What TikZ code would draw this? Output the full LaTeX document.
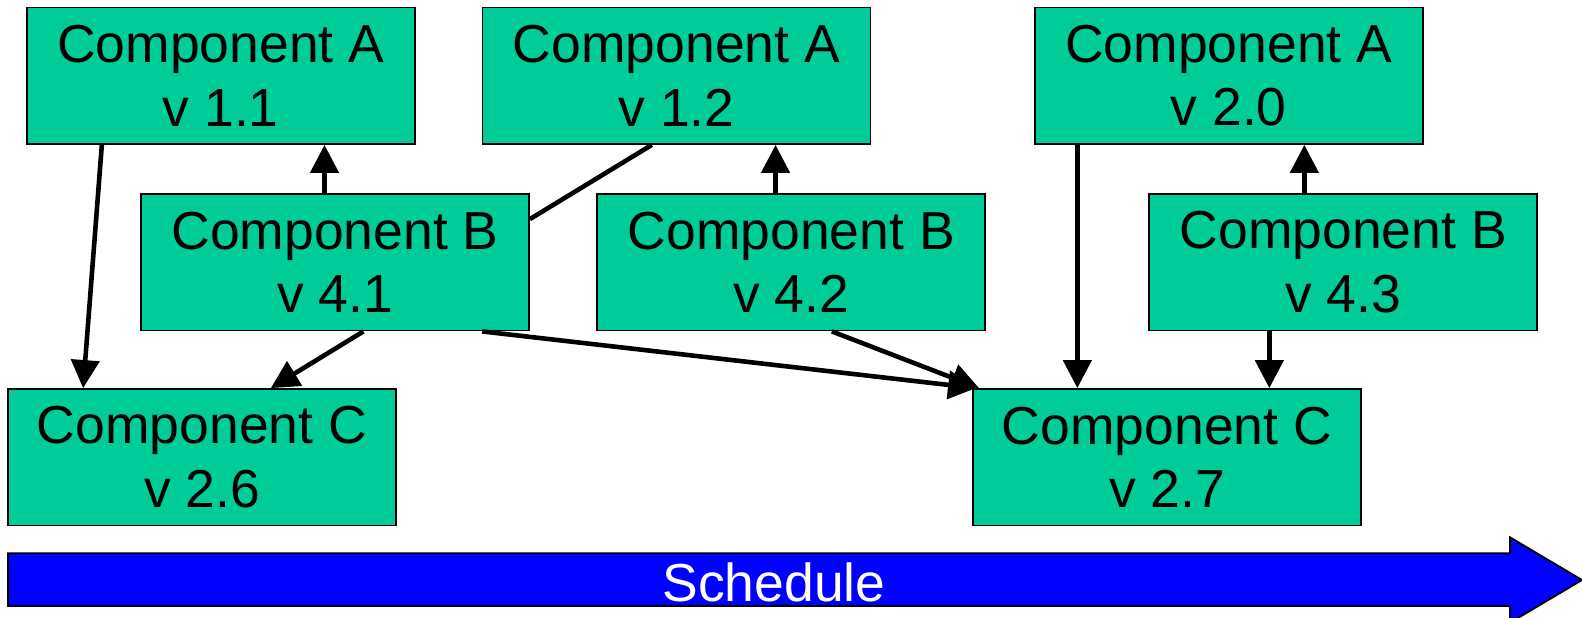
\documentclass[tikz,border=0pt]{standalone}
\usepackage{fontspec}
\setmainfont{Liberation Sans}
\usetikzlibrary{arrows.meta}
\definecolor{boxgreen}{RGB}{0,204,153}
\definecolor{schedblue}{RGB}{0,0,255}
\tikzset{
  comp/.style={draw=black, line width=1.8pt, fill=boxgreen, minimum width=388pt, minimum height=136.5pt,
    inner sep=0pt, align=center, font=\fontsize{53.5}{63.6}\selectfont},
  conn/.style={line width=4.6pt, draw=black},
  arr/.style={conn, -{Triangle[length=28pt,width=28pt]}}
}
\begin{document}
\begin{tikzpicture}[x=1pt,y=-1pt]
\useasboundingbox (0,0) rectangle (1582,618);
% boxes
\node[comp] (A11) at (220.75,75.75) {Component A\\v 1.1};
\node[comp] (A12) at (676.5,75.75) {Component A\\v 1.2};
\node[comp] (A20) at (1228.75,75.75) {Component A\\v 2.0};
\node[comp] (B41) at (335,262.25) {Component B\\v 4.1};
\node[comp] (B42) at (791.25,262.25) {Component B\\v 4.2};
\node[comp] (B43) at (1343.25,262.25) {Component B\\v 4.3};
\node[comp] (C26) at (202,457.25) {Component C\\v 2.6};
\node[comp] (C27) at (1167,457.25) {Component C\\v 2.7};
% connectors
\draw[conn] ([xshift=170.2pt]A12.south west) -- ([yshift=-26pt]B41.north east);
\draw[arr] ([xshift=76pt]A11.south west) -- ([xshift=76pt]C26.north west);
\draw[arr] ([xshift=184.4pt]B41.north west) -- ([xshift=184.4pt]B41.north west |- A11.south);
\draw[arr] ([xshift=223.3pt]B41.south west) -- ([xshift=263.7pt]C26.north west);
\draw[arr] ([xshift=342pt]B41.south west) -- ([xshift=4pt]C27.north west);
\draw[arr] ([xshift=179.2pt]B42.north west) -- ([xshift=179.2pt]B42.north west |- A12.south);
\draw[arr] ([xshift=235.5pt]B42.south west) -- ([xshift=7pt]C27.north west);
\draw[arr] ([xshift=43.5pt]A20.south west) -- ([xshift=43.5pt]A20.south west |- C27.north);
\draw[arr] ([xshift=156pt]B43.north west) -- ([xshift=156pt]B43.north west |- A20.south);
\draw[arr] ([xshift=121pt]B43.south west) -- ([xshift=121pt]B43.south west |- C27.north);
% schedule arrow
\draw[line width=1.8pt, fill=schedblue, draw=black, line join=miter]
  (8,553.3) -- (1510,553.3) -- (1510,537.3) -- (1582,580) -- (1510,622.7) -- (1510,606) -- (8,606) -- cycle;
\node[text=white, font=\fontsize{53.5}{63.6}\selectfont, inner sep=0pt] (sched) at (774,582.5) {Schedule};
\end{tikzpicture}
\end{document}
